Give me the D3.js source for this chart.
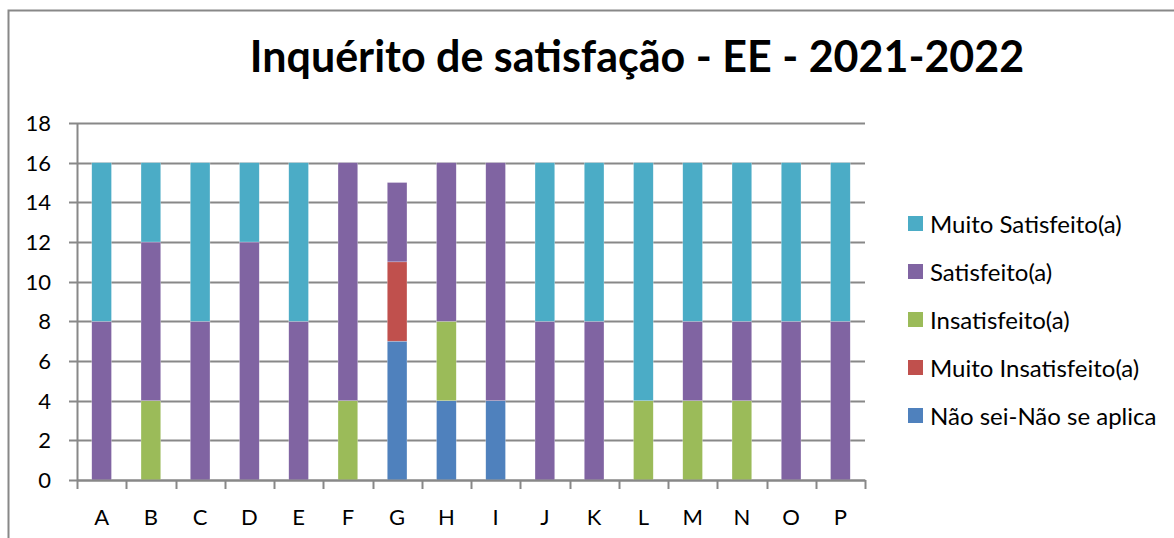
<!DOCTYPE html>
<html>
<head>
<meta charset="UTF-8">
<title>Inquérito de satisfação</title>
<style>
  body { margin: 0; background: #fff; }
  svg text { font-family: Lato, "Open Sans", sans-serif; fill: #000; }
</style>
</head>
<body>
<div id="chart"></div>
<script src="https://d3js.org/d3.v7.min.js"></script>
<script>
var width = 1174, height = 538;

// dados
var categories = ["A","B","C","D","E","F","G","H","I","J","K","L","M","N","O","P"];
var naoSei        = [0,0,0,0,0,0,7,4,4,0,0,0,0,0,0,0];
var muitoInsat    = [0,0,0,0,0,0,4,0,0,0,0,0,0,0,0,0];
var insatisfeito  = [0,4,0,0,0,4,0,4,0,0,0,4,4,4,0,0];
var satisfeito    = [8,8,8,12,8,12,4,8,12,8,8,0,4,4,8,8];
var muitoSat      = [8,4,8,4,8,0,0,0,0,8,8,12,8,8,8,8];
var yTicks = [0,2,4,6,8,10,12,14,16,18];

var seriesNames = ["Não sei-Não se aplica","Muito Insatisfeito(a)","Insatisfeito(a)","Satisfeito(a)","Muito Satisfeito(a)"];
var seriesValues = [naoSei, muitoInsat, insatisfeito, satisfeito, muitoSat];
var colors = ["#4F81BD","#C0504D","#9BBB59","#8064A2","#4BACC6"];

var rows = categories.map(function(c, i){
  var r = {cat: c};
  seriesNames.forEach(function(s, j){ r[s] = seriesValues[j][i]; });
  return r;
});
var stacked = d3.stack().keys(seriesNames)(rows);

var svg = d3.select("#chart").append("svg")
  .attr("width", width).attr("height", height);

// moldura
svg.append("rect")
  .attr("x", 8.5).attr("y", 10.5)
  .attr("width", 1200).attr("height", 600)
  .attr("fill", "none").attr("stroke", "#888").attr("stroke-width", 2);

var x = d3.scaleBand().domain(categories).range([77, 865]).paddingInner(0).paddingOuter(0);
var y = d3.scaleLinear().domain([0, 18]).range([480, 123]);

// grelha
svg.append("g").selectAll("line").data(yTicks).enter().append("line")
  .attr("x1", 69).attr("x2", 865)
  .attr("y1", function(d){ return Math.round(y(d)) + 0.5; })
  .attr("y2", function(d){ return Math.round(y(d)) + 0.5; })
  .attr("stroke", "#888").attr("stroke-width", 2);

// eixo y
svg.append("line").attr("x1", 77.5).attr("x2", 77.5).attr("y1", 123).attr("y2", 480)
  .attr("stroke", "#888").attr("stroke-width", 2);

svg.append("g").selectAll("text").data(yTicks).enter().append("text")
  .attr("x", 51).attr("y", function(d){ return y(d); })
  .attr("dy", "0.36em").attr("text-anchor", "end")
  .attr("font-size", 22).text(function(d){ return d; });

// barras
var barW = x.bandwidth() / 2.5;
svg.append("g").selectAll("g").data(stacked).enter().append("g")
  .attr("fill", function(d, i){ return colors[i]; })
  .selectAll("rect").data(function(d){ return d; }).enter().append("rect")
  .filter(function(d){ return d[1] - d[0] > 0; })
  .attr("x", function(d){ return x(d.data.cat) + (x.bandwidth() - barW) / 2; })
  .attr("width", barW)
  .attr("y", function(d){ return y(d[1]); })
  .attr("height", function(d){ return y(d[0]) - y(d[1]); })
  .attr("stroke", "#fff").attr("stroke-opacity", 0.5).attr("stroke-width", 0.5);

// eixo x
var xAxis = d3.axisBottom(x).tickSize(0).tickPadding(29);
var gx = svg.append("g").attr("transform", "translate(0,480)").call(xAxis);
gx.select(".domain").attr("stroke", "#888").attr("stroke-width", 2);
gx.selectAll("text").attr("font-size", 22).style("font-family", "Lato, 'Open Sans', sans-serif");
svg.append("g").selectAll("line").data(categories.concat(["end"])).enter().append("line")
  .attr("x1", function(d, i){ return Math.round(77 + i * x.bandwidth()) + 0.5; })
  .attr("x2", function(d, i){ return Math.round(77 + i * x.bandwidth()) + 0.5; })
  .attr("y1", 480).attr("y2", 489)
  .attr("stroke", "#888").attr("stroke-width", 2);

// título
svg.append("text")
  .attr("x", 637).attr("y", 72)
  .attr("text-anchor", "middle")
  .attr("font-size", 43).attr("font-weight", "bold")
  .text("Inquérito de satisfação - EE - 2021-2022");

// legenda
var legendOrder = [4,3,2,1,0];
var lg = svg.append("g").selectAll("g").data(legendOrder).enter().append("g")
  .attr("transform", function(d, i){ return "translate(908," + (224 + i * 48) + ")"; });
lg.append("rect").attr("x", 0).attr("y", -8).attr("width", 15).attr("height", 15)
  .attr("fill", function(d){ return colors[d]; });
lg.append("text").attr("x", 22).attr("y", 0).attr("dy", "0.36em")
  .attr("font-size", 24).text(function(d){ return seriesNames[d]; });
</script>
</body>
</html>
